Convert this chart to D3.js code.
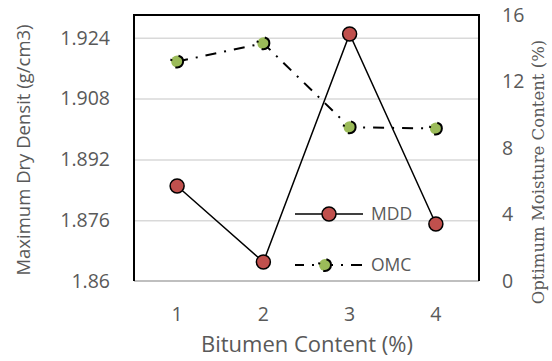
<!DOCTYPE html>
<html>
<head>
<meta charset="utf-8">
<script src="https://cdn.jsdelivr.net/npm/d3@7"></script>
<style>
  body { margin: 0; background: #fff; }
  text { fill: #595959; }
</style>
</head>
<body>
<div id="chart"></div>
<script>
// values
const bitumen = ['1', '2', '3', '4']
const mdd = [1.885, 1.865, 1.925, 1.875]
const omc = [13.2, 14.3, 9.25, 9.17]
const leftTicks = [1.86, 1.876, 1.892, 1.908, 1.924]
const rightTicks = [0, 4, 8, 12, 16]
const seriesNames = ['MDD', 'OMC']

const width = 552
const height = 361
const margin = { top: 15, right: 73, bottom: 80, left: 134 }
const innerW = width - margin.left - margin.right
const innerH = height - margin.top - margin.bottom

const svg = d3.select('#chart')
  .append('svg')
  .attr('width', width)
  .attr('height', height)
  .attr('font-family', '"Open Sans", sans-serif')

const x = d3.scaleBand()
  .domain(bitumen)
  .range([0, innerW])
const yL = d3.scaleLinear()
  .domain([1.86, 1.93])
  .range([innerH, 0])
const yR = d3.scaleLinear()
  .domain([0, 16])
  .range([innerH, 0])

const g = svg.append('g')
  .attr('transform', `translate(${margin.left},${margin.top})`)

// gridlines
g.append('g')
  .call(d3.axisLeft(yL).tickValues(leftTicks.slice(1)).tickSize(-innerW).tickFormat(''))
  .call(s => s.select('.domain').remove())
  .selectAll('line')
  .attr('stroke', '#d9d9d9')
  .attr('stroke-width', 1.5)

// left axis
g.append('g')
  .call(d3.axisLeft(yL).tickValues(leftTicks).tickSize(0).tickPadding(24).tickFormat(d => String(d)))
  .call(s => s.select('.domain').remove())
  .attr('font-family', '"Open Sans", sans-serif')
  .selectAll('text')
  .style('font-size', '19.5px')
  .attr('fill', '#595959')

// right axis
g.append('g')
  .attr('transform', `translate(${innerW},0)`)
  .call(d3.axisRight(yR).tickValues(rightTicks).tickSize(0).tickPadding(23))
  .call(s => s.select('.domain').remove())
  .attr('font-family', '"Open Sans", sans-serif')
  .selectAll('text')
  .style('font-size', '19.5px')
  .attr('fill', '#595959')

// bottom axis
g.append('g')
  .attr('transform', `translate(0,${innerH})`)
  .call(d3.axisBottom(x).tickSize(0).tickPadding(26))
  .call(s => s.select('.domain').remove())
  .attr('font-family', '"Open Sans", sans-serif')
  .selectAll('text')
  .style('font-size', '19.5px')
  .attr('fill', '#595959')

// frame
g.append('line')
  .attr('x1', 0).attr('x2', innerW)
  .attr('y1', innerH).attr('y2', innerH)
  .attr('stroke', '#bfbfbf')
  .attr('stroke-width', 2)
g.append('path')
  .attr('d', `M0,${innerH}V0H${innerW}V${innerH}`)
  .attr('fill', 'none')
  .attr('stroke', '#000')
  .attr('stroke-width', 2)

const cx = (d, i) => x(bitumen[i]) + x.bandwidth() / 2
const dashDot = '11,8,2,8'

// OMC series
g.append('path')
  .datum(omc)
  .attr('fill', 'none')
  .attr('stroke', '#000')
  .attr('stroke-width', 2)
  .attr('stroke-dasharray', dashDot)
  .attr('d', d3.line().x(cx).y(d => yR(d)))

g.selectAll('.omc')
  .data(omc)
  .enter().append('circle')
  .attr('class', 'omc')
  .attr('cx', cx)
  .attr('cy', d => yR(d))
  .attr('r', 6)
  .attr('fill', '#9bbb59')
  .attr('stroke', '#000')
  .attr('stroke-width', 2)
  .attr('stroke-dasharray', dashDot)

// MDD series
g.append('path')
  .datum(mdd)
  .attr('fill', 'none')
  .attr('stroke', '#000')
  .attr('stroke-width', 1.5)
  .attr('d', d3.line().x(cx).y(d => yL(d)))

g.selectAll('.mdd')
  .data(mdd)
  .enter().append('circle')
  .attr('class', 'mdd')
  .attr('cx', cx)
  .attr('cy', d => yL(d))
  .attr('r', 7)
  .attr('fill', '#c0504d')
  .attr('stroke', '#000')
  .attr('stroke-width', 1.5)

// legend
const legend = svg.append('g')
  .selectAll('g')
  .data(seriesNames)
  .enter().append('g')
  .attr('transform', (d, i) => `translate(295,${214 + i * 51})`)

legend.append('line')
  .attr('x1', 0).attr('x2', 68)
  .attr('stroke', '#000')
  .attr('stroke-width', d => d === 'MDD' ? 1.5 : 2)
  .attr('stroke-dasharray', d => d === 'MDD' ? null : dashDot)
  .attr('stroke-dashoffset', d => d === 'MDD' ? null : 2)

legend.append('circle')
  .attr('cx', d => d === 'MDD' ? 34 : 30)
  .attr('r', d => d === 'MDD' ? 7 : 6)
  .attr('fill', d => d === 'MDD' ? '#c0504d' : '#9bbb59')
  .attr('stroke', '#000')
  .attr('stroke-width', d => d === 'MDD' ? 1.5 : 2)
  .attr('stroke-dasharray', d => d === 'MDD' ? null : dashDot)

legend.append('text')
  .attr('x', 76)
  .attr('dy', '0.35em')
  .style('font-size', '17.5px')
  .text(d => d)

// axis titles
svg.append('text')
  .attr('transform', 'translate(30,150) rotate(-90)')
  .attr('text-anchor', 'middle')
  .style('font-size', '18.5px')
  .text('Maximum Dry Densit (g/cm3)')

svg.append('text')
  .attr('transform', 'translate(544,172) rotate(-90)')
  .attr('text-anchor', 'middle')
  .attr('font-family', '"DejaVu Serif", serif')
  .style('font-size', '16.5px')
  .text('Optimum Moisture Content (%)')

svg.append('text')
  .attr('x', 307)
  .attr('y', 352)
  .attr('text-anchor', 'middle')
  .style('font-size', '22px')
  .text('Bitumen Content (%)')
</script>
</body>
</html>
